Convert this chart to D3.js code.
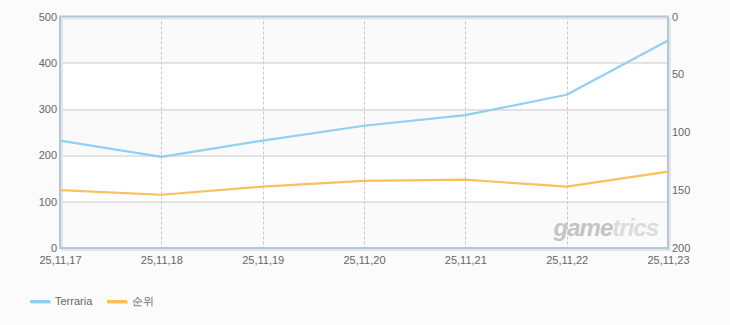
<!DOCTYPE html>
<html>
<head>
<meta charset="utf-8">
<script src="https://cdn.jsdelivr.net/npm/d3@7"></script>
<style>
body{margin:0;background:#fbfbfb;}
text{font-family:"Liberation Sans",Arial,sans-serif;}
</style>
</head>
<body>
<script>
const dates=['25,11,17','25,11,18','25,11,19','25,11,20','25,11,21','25,11,22','25,11,23']
const players=[232,197,232,264,287,331,448]
const ranks=[150,154,147,142,141,147,134]
const leftTicks=[0,100,200,300,400,500]
const rightTicks=[0,50,100,150,200]

const margin=({top:16.5,right:62,bottom:77,left:60})
const width=730-margin.left-margin.right,
	height=325-margin.top-margin.bottom

let svg=d3.select('body').append('svg')
	.attr('width',730)
	.attr('height',325)
	.append('g')
	.attr('transform','translate('+margin.left+','+margin.top+')')

let xScale=d3.scalePoint()
	.domain(dates)
	.range([0,width])

let yScale=d3.scaleLinear()
	.domain([0,500])
	.range([height,0])

let rScale=d3.scaleLinear()
	.domain([0,200])
	.range([0,height])

// bands
svg.append('rect').attr('width',width).attr('height',height).attr('fill','#fff')
svg.selectAll('.band')
	.data([0,200,400])
	.join('rect')
	.attr('x',0)
	.attr('y',d=>yScale(d+100))
	.attr('width',width)
	.attr('height',d=>yScale(d)-yScale(d+100))
	.attr('fill','#fafafa')

// horizontal grid
svg.selectAll('.hgrid')
	.data(leftTicks.slice(1,-1))
	.join('line')
	.attr('x1',0).attr('x2',width)
	.attr('y1',d=>Math.round(yScale(d))+0.5)
	.attr('y2',d=>Math.round(yScale(d))+0.5)
	.attr('stroke','#c8c8c8')

// vertical dashed grid
svg.selectAll('.vgrid')
	.data(dates.slice(1,-1))
	.join('line')
	.attr('x1',d=>Math.round(xScale(d))+0.5)
	.attr('x2',d=>Math.round(xScale(d))+0.5)
	.attr('y1',0).attr('y2',height)
	.attr('stroke','#c8c8c8')
	.attr('stroke-dasharray','3,2')

// watermark
const wm=svg.append('text')
	.attr('x',width-10)
	.attr('y',height-12)
	.attr('text-anchor','end')
	.attr('font-size',24)
	.attr('font-weight','bold')
	.attr('font-style','italic')
	.attr('letter-spacing',-1)
wm.append('tspan').attr('fill','#c4c4c4').text('game')
wm.append('tspan').attr('fill','#dcdcdc').text('trics')

// frame shadow + frame
svg.append('rect')
	.attr('x',2).attr('y',2)
	.attr('width',width).attr('height',height)
	.attr('fill','none')
	.attr('stroke','#e6e6e6')
	.attr('stroke-width',2)
svg.append('rect')
	.attr('width',width).attr('height',height)
	.attr('fill','none')
	.attr('stroke','#b4c6d8')
	.attr('stroke-width',2)

const line=d3.line()
	.x((d,i)=>xScale(dates[i]))

svg.append('path')
	.datum(ranks)
	.attr('fill','none')
	.attr('stroke','#fbbf5e')
	.attr('stroke-width',2.2)
	.attr('stroke-linejoin','round')
	.attr('d',line.y(d=>rScale(d)))

svg.append('path')
	.datum(players)
	.attr('fill','none')
	.attr('stroke','#92d0f1')
	.attr('stroke-width',2.2)
	.attr('stroke-linejoin','round')
	.attr('d',line.y(d=>yScale(d)))

// axes
let yAxis=d3.axisLeft(yScale).tickValues(leftTicks).tickSize(0).tickPadding(3)
let rAxis=d3.axisRight(rScale).tickValues(rightTicks).tickSize(0).tickPadding(4)
let xAxis=d3.axisBottom(xScale).tickSize(0).tickPadding(8)

function style(g){
	g.select('.domain').remove()
	g.selectAll('text').attr('fill','#666').attr('font-size',11)
		.attr('font-family','"Liberation Sans",Arial,sans-serif')
}

svg.append('g').call(yAxis).call(style)
svg.append('g').attr('transform',`translate(${width},0)`).call(rAxis).call(style)
svg.append('g').attr('transform',`translate(0,${height})`).call(xAxis).call(style)

// legend
const legend=d3.select('svg').append('g').attr('transform','translate(30,300)')
const items=[{name:'Terraria',color:'#92d0f1',x:0},{name:'순위',color:'#fbbf5e',x:77}]
const li=legend.selectAll('g').data(items).join('g')
	.attr('transform',d=>`translate(${d.x},0)`)
li.append('rect').attr('x',1).attr('y',1).attr('width',20).attr('height',3).attr('fill','#e2e2e2')
li.append('rect').attr('x',0).attr('y',0).attr('width',20).attr('height',3).attr('fill',d=>d.color)
li.append('text').attr('x',25).attr('y',5)
	.attr('font-size',11).attr('fill','#666')
	.text(d=>d.name)
</script>
</body>
</html>
